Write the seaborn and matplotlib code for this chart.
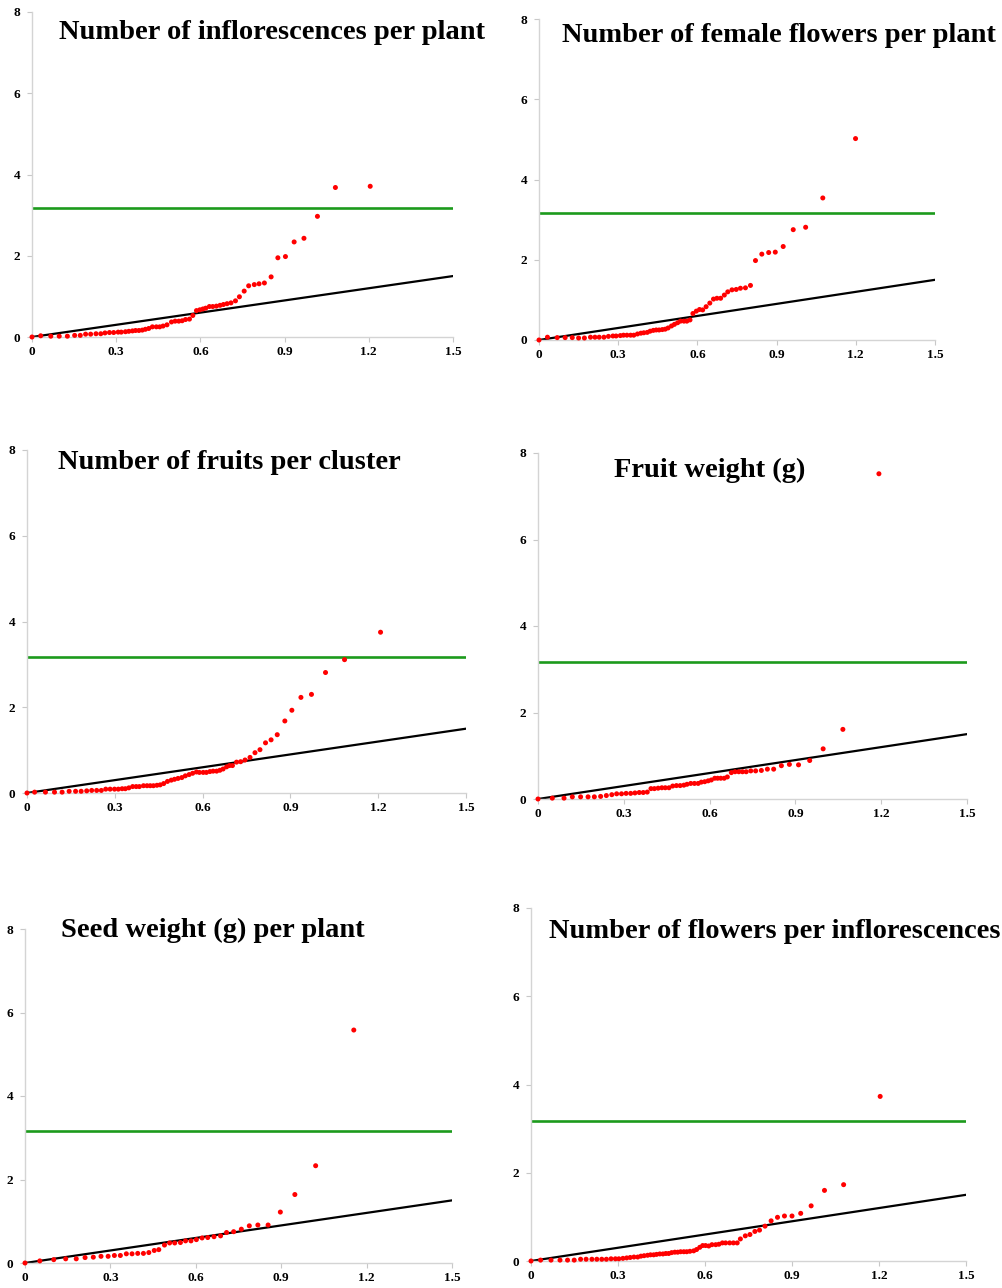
import matplotlib
matplotlib.use('Agg')
import pandas as pd
import matplotlib.pyplot as plt
import seaborn as sns

titles = [
    "Number of inflorescences per plant",
    "Number of female flowers per plant",
    "Number of fruits per cluster",
    "Fruit weight (g)",
    "Seed weight (g) per plant",
    "Number of flowers per inflorescences",
]

# panel 1: inflorescences per plant
x1 = [0, 0.031, 0.067, 0.097, 0.126, 0.152, 0.172, 0.191, 0.209, 0.228, 0.245, 0.260, 0.276, 0.291,
      0.307, 0.318, 0.333, 0.345, 0.358, 0.369, 0.381, 0.393, 0.404, 0.416, 0.429, 0.443, 0.455, 0.467,
      0.481, 0.497, 0.510, 0.523, 0.535, 0.547, 0.561, 0.573, 0.586, 0.598, 0.609, 0.619, 0.632, 0.644,
      0.657, 0.670, 0.682, 0.695, 0.709, 0.725, 0.739, 0.756, 0.772, 0.792, 0.809, 0.828, 0.852, 0.876,
      0.903, 0.934, 0.969, 1.017, 1.081, 1.205]
y1 = [0, 0.03, 0.02, 0.02, 0.02, 0.04, 0.04, 0.07, 0.07, 0.08, 0.08, 0.10, 0.11, 0.11,
      0.12, 0.12, 0.13, 0.14, 0.15, 0.16, 0.16, 0.17, 0.19, 0.21, 0.25, 0.25, 0.25, 0.27,
      0.30, 0.37, 0.39, 0.39, 0.40, 0.43, 0.44, 0.53, 0.65, 0.67, 0.69, 0.71, 0.75, 0.75,
      0.76, 0.78, 0.80, 0.82, 0.84, 0.89, 0.99, 1.13, 1.26, 1.29, 1.31, 1.33, 1.48, 1.95,
      1.98, 2.34, 2.43, 2.97, 3.68, 3.71]

# panel 2: female flowers per plant
x2 = [0, 0.032, 0.069, 0.099, 0.126, 0.150, 0.172, 0.195, 0.212, 0.228, 0.246, 0.263, 0.280, 0.292,
      0.308, 0.320, 0.333, 0.347, 0.359, 0.373, 0.386, 0.397, 0.410, 0.421, 0.433, 0.444, 0.455, 0.467,
      0.478, 0.489, 0.502, 0.513, 0.525, 0.536, 0.549, 0.560, 0.572, 0.583, 0.596, 0.608, 0.620, 0.633,
      0.647, 0.661, 0.674, 0.688, 0.702, 0.715, 0.731, 0.747, 0.763, 0.782, 0.801, 0.820, 0.844, 0.870,
      0.895, 0.925, 0.963, 1.010, 1.075, 1.199]
y2 = [0, 0.07, 0.06, 0.06, 0.06, 0.05, 0.05, 0.07, 0.07, 0.07, 0.07, 0.09, 0.10, 0.10,
      0.11, 0.12, 0.12, 0.12, 0.12, 0.15, 0.17, 0.18, 0.19, 0.22, 0.24, 0.25, 0.25, 0.26,
      0.27, 0.30, 0.35, 0.39, 0.43, 0.47, 0.47, 0.47, 0.50, 0.66, 0.72, 0.76, 0.75, 0.83,
      0.92, 1.02, 1.04, 1.04, 1.12, 1.20, 1.25, 1.26, 1.29, 1.30, 1.36, 1.98, 2.14, 2.18,
      2.19, 2.33, 2.75, 2.81, 3.54, 5.02]

# panel 3: fruits per cluster
x3 = [0, 0.026, 0.063, 0.094, 0.120, 0.144, 0.166, 0.185, 0.204, 0.221, 0.238, 0.254, 0.269, 0.284,
      0.299, 0.312, 0.325, 0.336, 0.348, 0.361, 0.373, 0.384, 0.398, 0.410, 0.421, 0.432, 0.444, 0.455,
      0.467, 0.480, 0.493, 0.504, 0.516, 0.529, 0.541, 0.554, 0.566, 0.579, 0.589, 0.602, 0.613, 0.625,
      0.636, 0.648, 0.659, 0.670, 0.682, 0.692, 0.702, 0.716, 0.730, 0.745, 0.762, 0.779, 0.796, 0.815,
      0.834, 0.855, 0.881, 0.905, 0.936, 0.972, 1.020, 1.085, 1.208]
y3 = [0, 0.02, 0.02, 0.02, 0.02, 0.04, 0.04, 0.04, 0.05, 0.06, 0.06, 0.06, 0.09, 0.09,
      0.09, 0.09, 0.10, 0.10, 0.12, 0.15, 0.15, 0.15, 0.17, 0.17, 0.17, 0.17, 0.18, 0.19,
      0.22, 0.27, 0.30, 0.32, 0.34, 0.36, 0.40, 0.43, 0.46, 0.49, 0.48, 0.48, 0.48, 0.50,
      0.51, 0.51, 0.53, 0.56, 0.61, 0.64, 0.64, 0.72, 0.73, 0.77, 0.83, 0.94, 1.01, 1.17,
      1.24, 1.36, 1.68, 1.93, 2.23, 2.30, 2.81, 3.11, 3.75]

# panel 4: fruit weight
x4 = [0, 0.050, 0.091, 0.120, 0.149, 0.175, 0.197, 0.219, 0.239, 0.258, 0.275, 0.292, 0.308, 0.324,
      0.339, 0.354, 0.368, 0.382, 0.395, 0.407, 0.420, 0.433, 0.445, 0.458, 0.471, 0.484, 0.497, 0.510,
      0.521, 0.534, 0.547, 0.560, 0.571, 0.583, 0.595, 0.606, 0.618, 0.628, 0.639, 0.651, 0.662, 0.676,
      0.689, 0.702, 0.715, 0.728, 0.744, 0.761, 0.781, 0.802, 0.824, 0.851, 0.879, 0.911, 0.950, 0.997,
      1.066, 1.192]
y4 = [0, 0.02, 0.02, 0.05, 0.05, 0.05, 0.05, 0.06, 0.08, 0.10, 0.12, 0.12, 0.13, 0.13,
      0.14, 0.15, 0.15, 0.16, 0.24, 0.24, 0.25, 0.26, 0.26, 0.26, 0.30, 0.31, 0.31, 0.32,
      0.34, 0.36, 0.36, 0.36, 0.39, 0.40, 0.42, 0.44, 0.48, 0.48, 0.48, 0.48, 0.51, 0.61,
      0.63, 0.63, 0.63, 0.63, 0.65, 0.65, 0.66, 0.69, 0.69, 0.77, 0.80, 0.79, 0.89, 1.16,
      1.61, 7.52]

# panel 5: seed weight per plant
x5 = [0, 0.052, 0.101, 0.143, 0.180, 0.211, 0.240, 0.267, 0.292, 0.314, 0.335, 0.356, 0.376, 0.396,
      0.416, 0.435, 0.454, 0.470, 0.490, 0.508, 0.526, 0.546, 0.564, 0.583, 0.602, 0.622, 0.642, 0.664,
      0.687, 0.708, 0.733, 0.760, 0.788, 0.818, 0.854, 0.897, 0.948, 1.021, 1.155]
y5 = [0, 0.05, 0.08, 0.10, 0.10, 0.13, 0.14, 0.16, 0.16, 0.18, 0.18, 0.22, 0.22, 0.23,
      0.23, 0.25, 0.30, 0.32, 0.43, 0.48, 0.48, 0.49, 0.53, 0.53, 0.56, 0.60, 0.61, 0.63,
      0.65, 0.73, 0.75, 0.81, 0.89, 0.91, 0.91, 1.22, 1.64, 2.33, 5.58]

# panel 6: flowers per inflorescence
x6 = [0, 0.033, 0.069, 0.100, 0.126, 0.149, 0.171, 0.190, 0.210, 0.227, 0.244, 0.260, 0.276, 0.291,
      0.303, 0.317, 0.330, 0.342, 0.355, 0.368, 0.379, 0.390, 0.402, 0.412, 0.423, 0.433, 0.444, 0.455,
      0.465, 0.475, 0.485, 0.496, 0.506, 0.516, 0.527, 0.537, 0.548, 0.561, 0.571, 0.582, 0.592, 0.602,
      0.613, 0.624, 0.637, 0.648, 0.660, 0.671, 0.685, 0.698, 0.711, 0.722, 0.739, 0.755, 0.772, 0.788,
      0.807, 0.828, 0.850, 0.874, 0.900, 0.930, 0.966, 1.012, 1.078, 1.204]
y6 = [0, 0.02, 0.02, 0.02, 0.02, 0.02, 0.04, 0.04, 0.04, 0.04, 0.04, 0.04, 0.05, 0.05,
      0.05, 0.06, 0.07, 0.08, 0.09, 0.09, 0.11, 0.12, 0.13, 0.14, 0.14, 0.15, 0.16, 0.16,
      0.17, 0.17, 0.19, 0.20, 0.20, 0.21, 0.21, 0.21, 0.22, 0.23, 0.26, 0.31, 0.35, 0.35,
      0.34, 0.37, 0.37, 0.38, 0.41, 0.41, 0.41, 0.41, 0.41, 0.50, 0.57, 0.60, 0.67, 0.70,
      0.79, 0.91, 0.99, 1.02, 1.02, 1.08, 1.25, 1.60, 1.73, 3.73]

threshold = 3.17
ref_x = [0, 1.5]
x_ticks = [0, 0.3, 0.6, 0.9, 1.2, 1.5]
x_tick_labels = ['0', '0.3', '0.6', '0.9', '1.2', '1.5']
y_ticks = [0, 2, 4, 6, 8]

sns.set_style('white')
plt.rcParams['font.family'] = ['Liberation Serif', 'DejaVu Serif']
plt.rcParams['text.color'] = 'black'

W, H = 1003, 1288
fig = plt.figure(figsize=(W / 100, H / 100), dpi=100)

# axes boxes in pixels: left, top, right, bottom
boxes = [(32, 12, 453, 337), (539, 19, 935, 340),
         (27, 450, 466, 793), (538, 453, 967, 799),
         (25, 929, 452, 1263), (531, 908, 966, 1261)]
# title left edge and baseline in pixels
title_pos = [(59, 39), (562, 42), (58, 469), (614, 477), (61, 937), (549, 938)]

xs = [x1, x2, x3, x4, x5, x6]
ys = [y1, y2, y3, y4, y5, y6]

for i in range(6):
    l, t, r, b = boxes[i]
    ax = fig.add_axes([l / W, 1 - b / H, (r - l) / W, (b - t) / H])
    df = pd.DataFrame({'expected': xs[i], 'observed': ys[i]})
    ax.axhline(threshold, color='#1c9a1c', lw=1.9, zorder=1)
    ax.plot(ref_x, ref_x, color='black', lw=1.6, zorder=2)
    sns.scatterplot(data=df, x='expected', y='observed', ax=ax, color='#ff0000',
                    s=13, edgecolor='none', zorder=3, clip_on=False)
    ax.set_xlim(0, 1.5)
    ax.set_ylim(0, 8)
    ax.set_xticks(x_ticks)
    ax.set_xticklabels(x_tick_labels)
    ax.set_yticks(y_ticks)
    ax.set_xlabel('')
    ax.set_ylabel('')
    for side in ['top', 'right']:
        ax.spines[side].set_visible(False)
    for side in ['left', 'bottom']:
        ax.spines[side].set_color('#d4d4d4')
        ax.spines[side].set_linewidth(1)
    ax.tick_params(axis='both', which='major', bottom=True, left=True, length=3.5,
                   width=0.8, color='#c8c8c8', labelsize=9.5, labelcolor='black', pad=3)
    ax.tick_params(axis='y', pad=5)
    for lab in ax.get_xticklabels() + ax.get_yticklabels():
        lab.set_fontweight('bold')
    tx, ty = title_pos[i]
    fig.text(tx / W, 1 - ty / H, titles[i], fontsize=20.5, fontweight='bold',
             color='black', ha='left', va='baseline')

fig.savefig('out.png', dpi=100)
